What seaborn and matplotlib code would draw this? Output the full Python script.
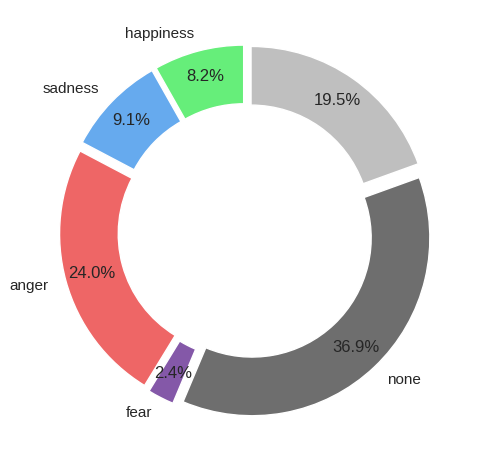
import matplotlib
matplotlib.use("Agg")
import matplotlib.pyplot as plt
import seaborn as sns

# emotion shares (percent)
labels = ['happiness', 'sadness', 'anger', 'fear', 'none', '']
shares = [8.2, 9.1, 24.0, 2.4, 36.9, 19.5]
colors = ['#66ee7a', '#66aaee', '#ee6666', '#8458a8', '#6e6e6e', '#bfbfbf']

sns.set_theme(style="white")
plt.rcParams['font.family'] = ['Liberation Sans', 'DejaVu Sans']

fig, ax = plt.subplots(figsize=(4.78, 4.63), dpi=100)
wedges, texts, autotexts = ax.pie(
    shares, labels=labels, colors=colors, autopct='%1.1f%%',
    startangle=90, counterclock=True, explode=[0.05] * len(shares),
    pctdistance=0.85, labeldistance=1.1,
    wedgeprops=dict(width=0.33),
    textprops=dict(fontsize=11, color='#262626'))
for t in autotexts:
    t.set_fontsize(12)
ax.set_aspect('equal')
plt.subplots_adjust(left=0.049, right=0.98, top=0.98, bottom=0.02)
fig.savefig('out.png', dpi=100)
